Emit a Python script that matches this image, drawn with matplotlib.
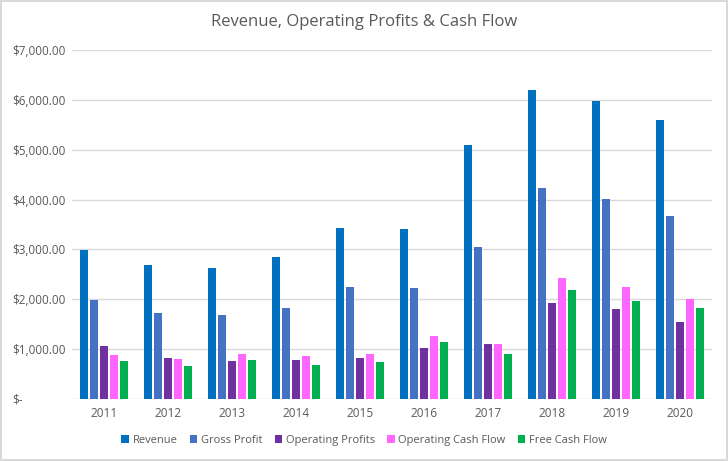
import matplotlib
matplotlib.use("Agg")
import matplotlib.pyplot as plt
import numpy as np

years = ["2011", "2012", "2013", "2014", "2015", "2016", "2017", "2018", "2019", "2020"]
revenue = [2990, 2690, 2630, 2850, 3430, 3410, 5090, 6200, 5980, 5600]
gross_profit = [1990, 1730, 1690, 1830, 2250, 2230, 3050, 4240, 4020, 3670]
operating_profits = [1070, 830, 770, 790, 830, 1030, 1110, 1930, 1810, 1550]
operating_cash_flow = [890, 810, 910, 870, 910, 1270, 1110, 2430, 2250, 2010]
free_cash_flow = [770, 670, 790, 690, 750, 1150, 910, 2190, 1970, 1830]

series = [
    ("Revenue", revenue, "#0070c0"),
    ("Gross Profit", gross_profit, "#4472c4"),
    ("Operating Profits", operating_profits, "#7030a0"),
    ("Operating Cash Flow", operating_cash_flow, "#ff66ff"),
    ("Free Cash Flow", free_cash_flow, "#00b050"),
]

plt.rcParams['font.family'] = ['Open Sans', 'DejaVu Sans']

fig = plt.figure(figsize=(7.28, 4.61), dpi=100)
fig.patch.set_edgecolor("#d9d9d9")
fig.patch.set_linewidth(1.5)
ax = fig.add_axes([72 / 728, 1 - 399 / 461, 640 / 728, 349 / 461])

x = np.arange(len(years))
width = 0.125
step = 0.156
for i, (name, vals, color) in enumerate(series):
    ax.bar(x + (i - 2) * step, vals, width, color=color, label=name, zorder=3)

ax.set_xlim(-0.5, len(years) - 0.5)
ax.set_ylim(0, 7000)
ax.set_xticks(x)
ax.set_xticklabels(years)
yt = np.arange(0, 7001, 1000)
ax.set_yticks(yt)
ax.set_yticklabels(["$-"] + ["${:,.2f}".format(v) for v in yt[1:]])
for lab in ax.get_yticklabels():
    lab.set_horizontalalignment("left")
ax.tick_params(axis="y", length=0, pad=43, labelsize=8.5, labelcolor="#595959")
ax.tick_params(axis="x", length=0, pad=6, labelsize=8.5, labelcolor="#595959")
ax.grid(axis="y", color="#d9d9d9", linewidth=1, zorder=0)
for s in ax.spines.values():
    s.set_visible(False)

fig.text(0.5, 1 - 22 / 461, "Revenue, Operating Profits & Cash Flow", fontsize=12,
         color="#595959", ha="center", va="center")

fig.legend(loc="center", bbox_to_anchor=(0.5, 1 - 440 / 461), ncol=5, frameon=False,
           fontsize=8, labelcolor="#595959", handlelength=0.7, handleheight=0.7,
           handletextpad=0.3, columnspacing=1.1)

fig.savefig("out.png", dpi=100)
